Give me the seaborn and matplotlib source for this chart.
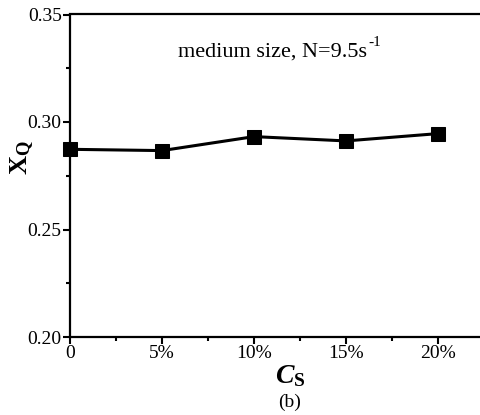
import matplotlib
matplotlib.use("Agg")
import matplotlib.pyplot as plt
import seaborn as sns
import pandas as pd
from matplotlib.ticker import MultipleLocator

# data
cs_pct = [0, 5, 10, 15, 20]
cs_labels = ['0', '5%', '10%', '15%', '20%']
xq = [0.2873, 0.2867, 0.2932, 0.2912, 0.2946]

df = pd.DataFrame({'cs': cs_pct, 'xq': xq})

sns.set_style("ticks")
plt.rcParams['font.family'] = ['Liberation Serif', 'DejaVu Serif']
plt.rcParams['text.color'] = 'black'
plt.rcParams['mathtext.fontset'] = 'custom'
plt.rcParams['mathtext.rm'] = 'Liberation Serif'
plt.rcParams['mathtext.it'] = 'Liberation Serif:italic'
plt.rcParams['mathtext.bf'] = 'Liberation Serif:bold'
plt.rcParams['mathtext.bfit'] = 'Liberation Serif:bold:italic'

fig = plt.figure(figsize=(4.8, 4.15), dpi=100)
ax = fig.add_axes([70/480, 78/415, 414/480, 322.5/415])

sns.lineplot(data=df, x='cs', y='xq', ax=ax, color='black', linewidth=2.2,
             marker='s', markersize=10, markeredgecolor='black', clip_on=False)

ax.set_xlim(0, 22.5)
ax.set_ylim(0.20, 0.35)
ax.set_xticks(cs_pct)
ax.set_xticklabels(cs_labels)
ax.set_yticks([0.20, 0.25, 0.30, 0.35])
ax.set_yticklabels(['0.20', '0.25', '0.30', '0.35'])
ax.xaxis.set_minor_locator(MultipleLocator(2.5))
ax.yaxis.set_minor_locator(MultipleLocator(0.025))
ax.tick_params(which='major', direction='out', length=5, width=1.5,
               labelsize=14, pad=1, colors='black')
ax.tick_params(which='minor', direction='out', length=3, width=1.5, colors='black')
ax.tick_params(axis='x', which='both', top=False)
ax.tick_params(axis='y', which='both', right=False)
for side in ['left', 'bottom', 'top']:
    ax.spines[side].set_linewidth(1.6)
    ax.spines[side].set_color('black')
ax.spines['right'].set_visible(False)
ax.set_xlabel('')
ax.set_ylabel('')

# annotation with a hyphen superscript
note = fig.text(178/480, 1 - 52/415, 'medium size, N=9.5s', ha='left', va='center',
                fontsize=16, color='black')
fig.canvas.draw()
bb = note.get_window_extent()
fig.text((bb.x1 + 1) / 480, 1 - 42/415, '-1', ha='left', va='center',
         fontsize=11, color='black')

fig.text(22/480, 1 - 158/415, r'$\mathbf{X}_{\mathbf{Q}}$', rotation=90,
         ha='center', va='center', fontsize=19, color='black')
fig.text(290/480, 1 - 376/415, r'$\mathbfit{C}_{\mathbf{S}}$',
         ha='center', va='center', fontsize=20, color='black')
fig.text(290/480, 1 - 402/415, '(b)', ha='center', va='center', fontsize=14,
         color='black')

fig.savefig('out.png', dpi=100)
